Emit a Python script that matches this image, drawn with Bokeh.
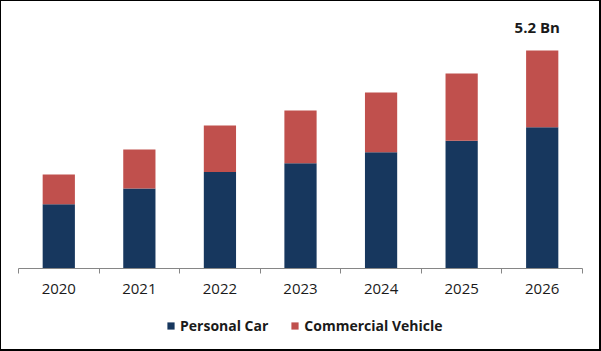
from bokeh.plotting import figure
from bokeh.layouts import column
from bokeh.models import Range1d, FixedTicker, ColumnDataSource, Legend, LegendItem
from bokeh.embed import file_html
from bokeh.resources import INLINE
from bokeh.core.properties import value

# ---- data ----
years = ["2020", "2021", "2022", "2023", "2024", "2025", "2026"]
personal_car = [1.53, 1.91, 2.30, 2.51, 2.77, 3.05, 3.37]
commercial_vehicle = [0.71, 0.93, 1.11, 1.26, 1.43, 1.60, 1.83]
series_names = ["Personal Car", "Commercial Vehicle"]
series_colors = ["#17375E", "#C0504D"]
top_label = "5.2 Bn"

FONT = "Open Sans"

x_pos = [i + 0.5 for i in range(len(years))]
totals = [a + b for a, b in zip(personal_car, commercial_vehicle)]
source = ColumnDataSource(dict(x=x_pos, personal=personal_car, commercial=commercial_vehicle))

# ---- main chart ----
p = figure(
    width=598, height=303,
    x_range=Range1d(0, len(years)),
    y_range=Range1d(0, 6.13),
    output_backend="svg", toolbar_location=None,
    y_axis_location=None,
    min_border_left=17, min_border_right=17, min_border_top=10, min_border_bottom=36,
)
p.outline_line_color = None
p.xgrid.grid_line_color = None
p.ygrid.grid_line_color = None

rs = p.vbar_stack(["personal", "commercial"], x="x", width=0.4, source=source,
                  color=series_colors, line_color=None)

ax = p.xaxis[0]
ax.ticker = FixedTicker(ticks=x_pos, minor_ticks=list(range(len(years) + 1)))
ax.major_label_overrides = {x: y for x, y in zip(x_pos, years)}
ax.axis_line_color = "#868686"
ax.axis_line_width = 1
ax.major_tick_line_color = None
ax.major_tick_out = 0
ax.major_tick_in = 0
ax.minor_tick_line_color = "#868686"
ax.minor_tick_out = 5
ax.minor_tick_in = 0
ax.major_label_standoff = 10
ax.major_label_text_font = FONT
ax.major_label_text_font_size = "15px"
ax.major_label_text_color = "#1a1a1a"

p.text(x=[x_pos[-1]], y=[totals[-1]], text=[top_label],
       text_font=value(FONT), text_font_style="bold", text_font_size="15px",
       text_color="#1a1a1a", text_align="center", text_baseline="alphabetic",
       x_offset=-5, y_offset=-23)

# ---- legend strip (same series, zero-width bars far outside its view) ----
pl = figure(
    width=598, height=45,
    x_range=Range1d(0, len(years)), y_range=Range1d(-1000, -999),
    output_backend="svg", toolbar_location=None,
    x_axis_location=None, y_axis_location=None, min_border=0,
)
pl.outline_line_color = None
pl.xgrid.visible = False
pl.ygrid.visible = False
legend_renderers = pl.vbar_stack(["personal", "commercial"], x="x", width=0, source=source,
                                 color=series_colors, line_color=None)

legend = Legend(
    items=[LegendItem(label=n, renderers=[r]) for n, r in zip(series_names, legend_renderers)],
    orientation="horizontal", location=(148, 14),
    glyph_width=9, glyph_height=9, label_standoff=5, spacing=22,
    label_text_font=FONT, label_text_font_style="bold", label_text_font_size="14px",
    label_text_color="#1a1a1a",
    border_line_color=None, background_fill_alpha=0, padding=0, margin=0,
)
pl.add_layout(legend)

layout = column(p, pl, spacing=0,
                styles={"border-style": "solid", "border-color": "black",
                        "border-width": "1px 2px 2px 1px"})

open("out.html", "w").write(file_html(layout, INLINE))
